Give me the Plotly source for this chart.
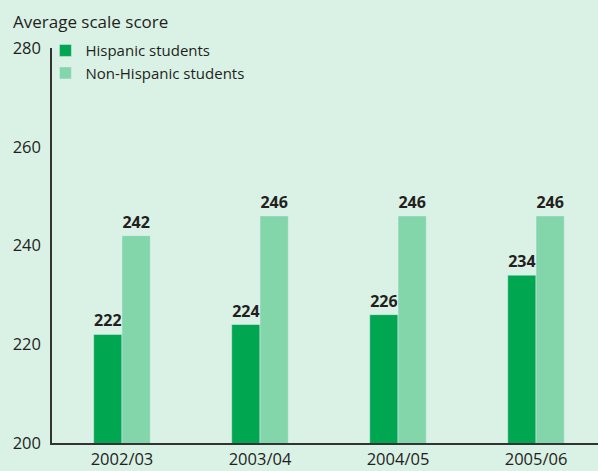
import plotly.graph_objects as go

years = ["2002/03", "2003/04", "2004/05", "2005/06"]
hispanic = [222, 224, 226, 234]
non_hispanic = [242, 246, 246, 246]

bg = "#daf1e5"
dark = "#00a650"
light = "#82d6aa"
txt = "#231f20"

fig = go.Figure()
fig.add_trace(go.Bar(x=years, y=hispanic, name="Hispanic students",
                     marker_color=dark, text=hispanic, textposition="outside",
                     textfont=dict(size=16, color=txt, family="Open Sans", weight="bold"),
                     cliponaxis=False))
fig.add_trace(go.Bar(x=years, y=non_hispanic, name="Non-Hispanic students",
                     marker_color=light, text=non_hispanic, textposition="outside",
                     textfont=dict(size=16, color=txt, family="Open Sans", weight="bold"),
                     cliponaxis=False))

fig.update_layout(
    width=598, height=471,
    barmode="group", bargap=0.59, bargroupgap=0,
    paper_bgcolor=bg, plot_bgcolor=bg,
    margin=dict(l=52, r=0, t=48, b=28),
    font=dict(family="Open Sans", size=15, color=txt),
    showlegend=True,
    legend=dict(x=-0.012, y=1.035, xanchor="left", yanchor="top",
                bgcolor="rgba(0,0,0,0)", font=dict(size=15),
                tracegroupgap=0),
    annotations=[dict(text="Average scale score", xref="paper", yref="paper",
                      x=-0.075, y=1.0, yshift=40, xanchor="left", yanchor="top",
                      showarrow=False, font=dict(size=17, color=txt))],
)
fig.update_xaxes(range=[-0.507, 3.449], showline=True, linecolor="#333333",
                 linewidth=1.5, ticks="", tickfont=dict(size=16.5))
fig.update_yaxes(range=[200, 280], tickvals=[200, 220, 240, 260, 280],
                 showgrid=False, zeroline=False, showline=True,
                 linecolor="#333333", linewidth=1.5, ticks="",
                 ticklabelstandoff=6, tickfont=dict(size=16.5))

# page body margin would shift the chart inside the window
fig.write_html("out.html", config={"displayModeBar": False},
               post_script="document.body.style.margin='0';document.body.style.background='%s';" % bg)
